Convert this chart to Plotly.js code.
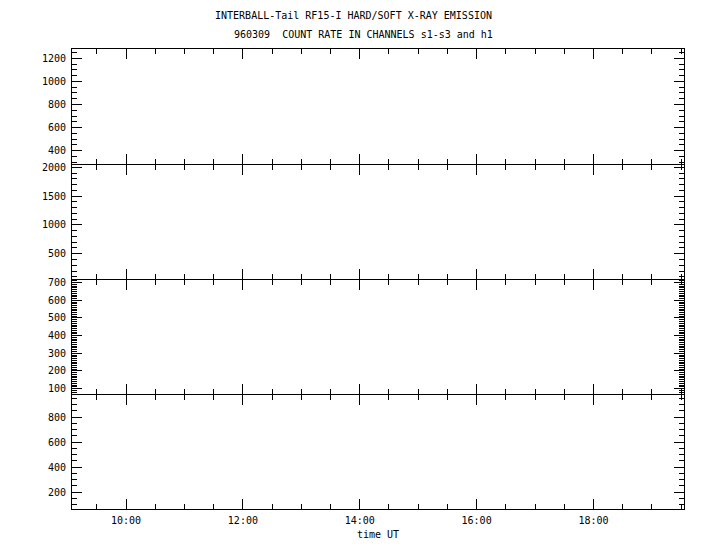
<!DOCTYPE html>
<html>
<head>
<meta charset="utf-8">
<script src="https://cdn.plot.ly/plotly-3.0.1.min.js"></script>
<style>html,body{margin:0;padding:0;background:#fff}#chart{width:720px;height:550px}</style>
</head>
<body>
<div id="chart"></div>
<script>
// Data (the reference panels contain no plotted samples)
const channels = ["s1", "s2", "s3", "h1"];
const timeS1 = [], countS1 = [];
const timeS2 = [], countS2 = [];
const timeS3 = [], countS3 = [];
const timeH1 = [], countH1 = [];
const xRange = ["1996-03-09 09:04:30", "1996-03-09 19:33:00"];
const yRanges = [[290, 1280], [70, 2050], [72, 718], [66, 981]];
const yMajor = [200, 500, 100, 200];
const yMinor = [50, 100, 10, 50];
const titleLine1 = "INTERBALL-Tail RF15-I HARD/SOFT X-RAY EMISSION";
const titleLine2 = "960309  COUNT RATE IN CHANNELS s1-s3 and h1";
const xTitle = "time UT";

const seriesX = [timeS1, timeS2, timeS3, timeH1];
const seriesY = [countS1, countS2, countS3, countH1];

const font = {family: "DejaVu Sans Mono, Liberation Mono, monospace", size: 10, color: "#000"};
const traces = channels.map((c, i) => ({
  x: seriesX[i], y: seriesY[i], name: c, type: "scatter", mode: "lines",
  line: {color: "#000", width: 1},
  xaxis: i === 0 ? "x" : "x" + (i + 1),
  yaxis: i === 0 ? "y" : "y" + (i + 1),
  showlegend: false
}));

const layout = {
  width: 720, height: 550,
  margin: {l: 72, r: 36, t: 49, b: 41},
  paper_bgcolor: "#fff", plot_bgcolor: "#fff",
  font: font,
  showlegend: false,
  title: {text: titleLine1, x: 353.5 / 720, xanchor: "center", xref: "container",
          y: 1 - 15 / 550, yanchor: "middle", yref: "container", font: font},
  annotations: [{text: titleLine2.replace(/  /g, " &nbsp;"), xref: "paper", yref: "paper",
                 x: (363 - 72) / 612, y: 1 + (49 - 35) / 460,
                 xanchor: "center", yanchor: "middle", showarrow: false, font: font}]
};

const g = 1 / 460; // small gap so adjacent panel lines coincide
const domains = [[0.75 + g / 2, 1], [0.5 + g / 2, 0.75 - g / 2], [0.25 + g / 2, 0.5 - g / 2], [0, 0.25 - g / 2]];
for (let i = 0; i < 4; i++) {
  const xk = i === 0 ? "xaxis" : "xaxis" + (i + 1);
  const yk = i === 0 ? "yaxis" : "yaxis" + (i + 1);
  const yid = i === 0 ? "y" : "y" + (i + 1);
  const xid = i === 0 ? "x" : "x" + (i + 1);
  layout[xk] = {
    type: "date", range: xRange, anchor: yid,
    matches: i === 0 ? undefined : "x",
    tick0: "1996-03-09 00:00", dtick: 7200000, tickformat: "%H:%M",
    ticks: "inside", ticklen: 10, tickwidth: 1, tickcolor: "#000",
    minor: {dtick: 1800000, ticks: "inside", ticklen: 5, tickwidth: 1, tickcolor: "#000", showgrid: false},
    showticklabels: i === 3, ticklabelstandoff: 2,
    showline: true, linecolor: "#000", linewidth: 1, mirror: "ticks",
    showgrid: false, zeroline: false, fixedrange: true,
    title: i === 3 ? {text: xTitle, standoff: 5, font: font} : undefined,
    tickfont: font
  };
  layout[yk] = {
    domain: domains[i], range: yRanges[i], anchor: xid,
    dtick: yMajor[i], tick0: 0,
    ticks: "inside", ticklen: 10, tickwidth: 1, tickcolor: "#000",
    minor: {dtick: yMinor[i], ticks: "inside", ticklen: 5, tickwidth: 1, tickcolor: "#000", showgrid: false},
    showline: true, linecolor: "#000", linewidth: 1, mirror: "ticks",
    showgrid: false, zeroline: false, fixedrange: true,
    tickfont: font, ticklabelstandoff: 3
  };
}

Plotly.newPlot("chart", traces, layout, {staticPlot: true, displayModeBar: false});
</script>
</body>
</html>
